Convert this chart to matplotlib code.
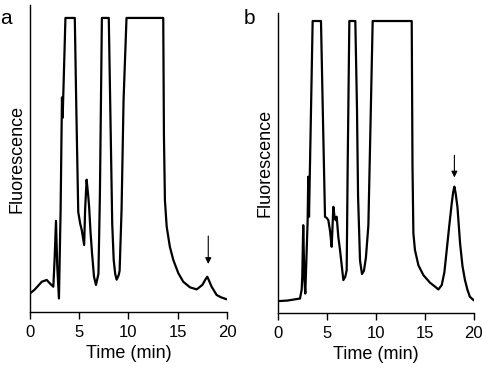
import matplotlib
matplotlib.use("Agg")
import matplotlib.pyplot as plt

plt.rcParams['font.family'] = ['Liberation Sans', 'DejaVu Sans']

# panel a: time (min) and fluorescence (plateau = detector saturation at 100)
time_a = [0, 0.5, 1.2, 1.7, 2.0, 2.37, 2.5, 2.64, 2.77, 2.94, 3.11, 3.2, 3.25, 3.3, 3.35, 3.6,
          4.55, 4.7, 4.9, 5.1, 5.25, 5.5, 5.6, 5.75, 5.9, 6.0, 6.15, 6.3, 6.5, 6.7, 6.95, 7.1, 7.3,
          8.0, 8.2, 8.35, 8.5, 8.65, 8.8, 9.0, 9.1, 9.3, 9.5, 9.8,
          13.53, 13.6, 13.7, 13.88, 14.2, 14.55, 15.06, 15.56, 16.24, 16.92, 17.5, 17.8, 18.0,
          18.2, 18.44, 18.95, 19.4, 19.9]
fluor_a = [6.3, 7.7, 10.3, 10.9, 9.8, 8.6, 18, 31, 15.4, 4.6, 34.7, 60, 73, 66, 70, 100,
           100, 70, 34, 30, 28, 22.8, 35, 45, 40, 36, 27, 20, 12, 9.2, 13, 40, 100,
           100, 60, 30, 17.7, 13, 11, 12.5, 14, 35, 72, 100,
           100, 60, 38, 29, 22.2, 17.7, 13.2, 10.3, 8.4, 7.7, 9.2, 11, 12,
           10.5, 8.6, 5.8, 5.0, 4.4]

# panel b
time_b = [0, 1.0, 2.28, 2.45, 2.51, 2.61, 2.72, 2.82, 3.06, 3.12, 3.2, 3.35, 3.57,
          4.42, 4.6, 4.83, 5.03, 5.17, 5.35, 5.51, 5.68, 5.8, 5.92, 6.02, 6.19, 6.36, 6.7, 6.9,
          7.04, 7.14, 7.31,
          7.92, 8.09, 8.2, 8.4, 8.6, 8.8, 9.0, 9.25, 9.45, 9.69,
          13.67, 13.75, 13.84, 14.0, 14.35, 14.86, 15.54, 16.0, 16.39, 16.73, 17.0, 17.24, 17.5,
          17.75, 17.9, 18.02, 18.15, 18.33, 18.6, 18.85, 19.1, 19.35, 19.6, 19.96]
fluor_b = [4.1, 4.3, 5.0, 8, 12.4, 30.1, 12, 6.7, 31.8, 46.7, 33, 60, 100,
           100, 70, 33, 32.5, 31.8, 28, 22.7, 36.4, 33, 31.8, 33, 26, 21.6, 11.3, 12.5,
           14.7, 50, 100,
           100, 70, 40, 18, 13.4, 14.5, 19, 30, 61.6, 100,
           100, 50, 27.3, 21.6, 16.4, 13, 10.4, 9.2, 8.1, 9.6, 14, 21.6, 30,
           37.6, 41.5, 43.3, 41, 36.4, 23.9, 16, 11.3, 8, 5.6, 4.5]

arrow_a = (18.1, 15.4, 26.8)
arrow_b = (18.02, 45.5, 55)

fig = plt.figure(figsize=(4.82, 3.71), dpi=100)
ax_a = fig.add_axes([0.0622, 0.159, 0.4087, 0.8275])
ax_b = fig.add_axes([0.576, 0.156, 0.407, 0.8086])

for ax, t, f, arr, top in [(ax_a, time_a, fluor_a, arrow_a, 104.4),
                           (ax_b, time_b, fluor_b, arrow_b, 102.7)]:
    ax.plot(t, f, color='black', lw=1.6, solid_joinstyle='round')
    ax.annotate('', xy=(arr[0], arr[1]), xytext=(arr[0], arr[2]),
                arrowprops=dict(arrowstyle='-|>', color='black', lw=0.8, mutation_scale=9))
    ax.set_xlim(0, 20)
    ax.set_ylim(0, top)
    ax.set_xticks([0, 5, 10, 15, 20])
    ax.set_yticks([])
    ax.spines['top'].set_visible(False)
    ax.spines['right'].set_visible(False)
    ax.spines['left'].set_linewidth(1.0)
    ax.spines['bottom'].set_linewidth(1.0)
    ax.tick_params(axis='x', length=5, width=1.0, labelsize=12, pad=4)
    ax.set_xlabel('Time (min)', fontsize=13, labelpad=4)
    ax.set_ylabel('Fluorescence', fontsize=13, labelpad=3)
    ax.patch.set_visible(False)

fig.text(0.0, 0.95, 'a', fontsize=15, va='center', ha='left')
fig.text(0.505, 0.95, 'b', fontsize=15, va='center', ha='left')

fig.savefig('out.png', dpi=100)
